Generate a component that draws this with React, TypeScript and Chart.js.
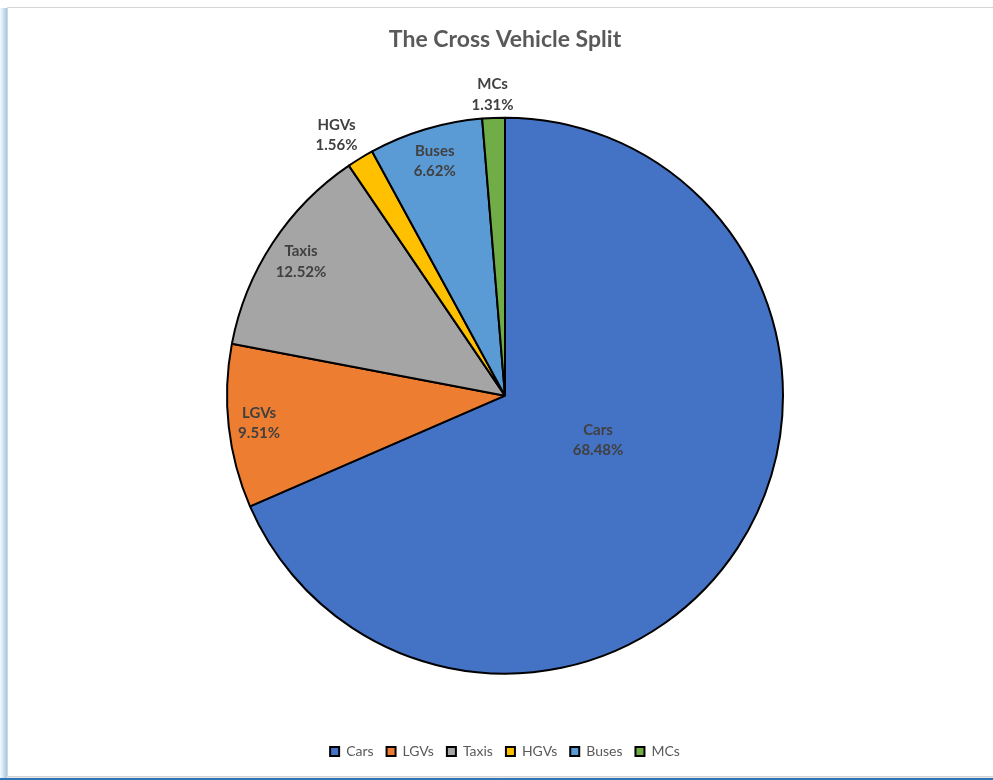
import React, { useEffect, useRef } from "react";
import { Chart, registerables } from "chart.js";

Chart.register(...registerables);

const TITLE = "The Cross Vehicle Split";
const CATEGORIES = ["Cars", "LGVs", "Taxis", "HGVs", "Buses", "MCs"];
const SHARES = [68.48, 9.51, 12.52, 1.56, 6.62, 1.31];
const COLORS = ["#4472C4", "#ED7D31", "#A5A5A5", "#FFC000", "#5B9BD5", "#70AD47"];
// label placement: radius factor and small pixel nudges (style only)
const LABEL_RADIUS = [0.37, 0.89, 0.878, 1.116, 0.882, 1.085];
const LABEL_DX = [7, 0, 0, -7, 0, 0];
const LABEL_DY = [-12, 0, 0, 4, 0, 0];

const FONT = "Lato, 'Open Sans', sans-serif";

const frame = {
  id: "frame",
  beforeDraw(chart: any) {
    const ctx = chart.ctx;
    const W = chart.width;
    const H = chart.height;
    ctx.save();
    ctx.fillStyle = "#ffffff";
    ctx.fillRect(0, 0, W, H);
    // left bluish shadow
    const g = ctx.createLinearGradient(0, 0, 7, 0);
    g.addColorStop(0, "rgba(91,155,213,0.05)");
    g.addColorStop(1, "rgba(91,155,213,0.55)");
    ctx.fillStyle = g;
    ctx.fillRect(0, 8, 7, H - 10);
    // frame border
    ctx.strokeStyle = "#d4d4d4";
    ctx.lineWidth = 1;
    ctx.beginPath();
    ctx.moveTo(W + 5, 7.5);
    ctx.lineTo(7.5, 7.5);
    ctx.lineTo(7.5, 776.5);
    ctx.lineTo(W + 5, 776.5);
    ctx.stroke();
    ctx.strokeStyle = "#e6e6e6";
    ctx.beginPath();
    ctx.moveTo(7, 777.5);
    ctx.lineTo(W, 777.5);
    ctx.stroke();
    // bottom blue line
    ctx.fillStyle = "#2e75b6";
    ctx.fillRect(0, 778, W, 2);
    ctx.restore();
  },
};

const dataLabels = {
  id: "dataLabels",
  afterDatasetsDraw(chart: any) {
    const ctx = chart.ctx;
    const meta = chart.getDatasetMeta(0);
    ctx.save();
    ctx.font = `bold 15px ${FONT}`;
    ctx.fillStyle = "#404040";
    ctx.textAlign = "center";
    ctx.textBaseline = "middle";
    meta.data.forEach((arc: any, i: number) => {
      const p = arc.getProps(["x", "y", "startAngle", "endAngle", "outerRadius"], true);
      const mid = (p.startAngle + p.endAngle) / 2;
      const r = p.outerRadius * LABEL_RADIUS[i];
      const cx = p.x + Math.cos(mid) * r + LABEL_DX[i];
      const cy = p.y + Math.sin(mid) * r + LABEL_DY[i];
      ctx.fillText(CATEGORIES[i], cx, cy - 10);
      ctx.fillText(SHARES[i].toFixed(2) + "%", cx, cy + 10.5);
    });
    ctx.restore();
  },
};

export default function App() {
  const ref = useRef<HTMLCanvasElement | null>(null);
  useEffect(() => {
    document.body.style.margin = "0";
    if (!ref.current) return;
    const chart = new Chart(ref.current, {
      type: "pie",
      data: {
        labels: CATEGORIES,
        datasets: [
          {
            data: SHARES,
            backgroundColor: COLORS,
            borderColor: "#000000",
            borderWidth: 2,
          },
        ],
      },
      options: {
        responsive: false,
        animation: false,
        layout: { padding: { left: 226, right: 209, top: 0, bottom: 11.5 } },
        plugins: {
          title: {
            display: true,
            text: TITLE,
            color: "#595959",
            font: { family: FONT, size: 23, weight: "bold" },
            padding: { top: 26.2, bottom: 6 },
          },
          legend: {
            position: "bottom",
            labels: {
              boxWidth: 9,
              boxHeight: 9,
              padding: 13,
              color: "#595959",
              font: { family: FONT, size: 14 },
            },
          },
          tooltip: { enabled: false },
        },
      },
      plugins: [frame, dataLabels],
    });
    return () => chart.destroy();
  }, []);

  return (
    <div style={{ width: 993, height: 780, overflow: "hidden" }}>
      <canvas ref={ref} width={993} height={780} style={{ display: "block" }} />
    </div>
  );
}
